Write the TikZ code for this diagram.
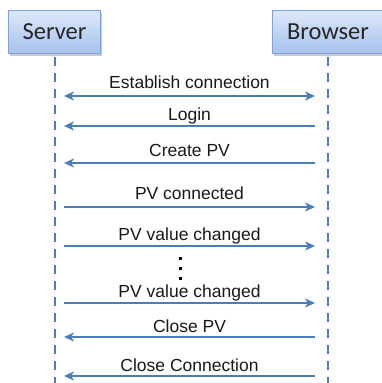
\documentclass[tikz,border=0pt]{standalone}
\usepackage{fontspec}
\setmainfont{Liberation Sans}
\newfontfamily\headfont{Carlito}
\usetikzlibrary{arrows.meta,shadows}

\definecolor{msgblue}{HTML}{4A7EBB}
\definecolor{boxedge}{HTML}{7FA2D8}
\definecolor{boxtop}{HTML}{DDE8F9}
\definecolor{boxbot}{HTML}{A6C2EE}

\tikzset{
  actor/.style={draw=boxedge, line width=1pt, top color=boxtop, bottom color=boxbot,
    minimum height=43pt, inner sep=0pt, font=\headfont\fontsize{24.5}{28}\selectfont,
    text=black!85, drop shadow={shadow xshift=1.5pt, shadow yshift=-2.5pt, opacity=0.35, fill=black!60}},
  lifeline/.style={draw=msgblue, line width=2pt, dash pattern=on 9pt off 7pt},
  msg/.style={draw=msgblue, line width=2pt,
    arrows={-Stealth[length=10pt, width=9pt, inset=3pt]}},
  msgboth/.style={msg, arrows={Stealth[length=10pt, width=9pt, inset=3pt]-Stealth[length=10pt, width=9pt, inset=3pt]}},
  lbl/.style={font=\fontsize{17.5}{20}\selectfont, text=black!90, inner sep=0pt, anchor=base},
  dot/.style={fill=black, minimum size=3pt, inner sep=0pt}
}

\begin{document}
\begin{tikzpicture}[x=1pt,y=1pt]
  \useasboundingbox (0,0) rectangle (382,-383);

  % participants
  \node[actor, minimum width=92pt] (server) at (54.5,-31.5) {Server};
  \node[actor, minimum width=112pt] (browser) at (328,-31.5) {Browser};

  % lifelines
  \coordinate (serverEnd) at (55,-383);
  \coordinate (browserEnd) at (328,-383);
  \draw[lifeline] (server.south -| serverEnd) ++(0,-3) -- (serverEnd);
  \draw[lifeline] (browser.south) ++(0,-3) -- (browserEnd);

  % message endpoints on both sides
  \foreach \n/\y in {1/96, 2/126, 3/163, 4/207, 5/246, 6/303, 7/337, 8/376} {
    \coordinate (s\n) at (64,-\y);
    \coordinate (b\n) at (315,-\y);
  }

  % messages
  \draw[msgboth] (s1) -- node[lbl, yshift=8pt] {Establish connection} (b1);
  \draw[msg] (b2) -- node[lbl, yshift=6pt] {Login} (s2);
  \draw[msg] (b3) -- node[lbl, yshift=6.5pt] {Create PV} (s3);
  \draw[msg] (s4) -- node[lbl, yshift=8pt] {PV connected} (b4);
  \draw[msg] (s5) -- node[lbl, yshift=6pt] {PV value changed} (b5);
  \draw[msg] (s6) -- node[lbl, yshift=5.5pt] {PV value changed} (b6);
  \draw[msg] (b7) -- node[lbl, yshift=5pt] {Close PV} (s7);
  \draw[msg] (b8) -- node[lbl, yshift=5pt] {Close Connection} (s8);

  % continuation dots
  \node[dot] (d1) at (180,-258) {};
  \node[dot] (d2) at (180,-268) {};
  \node[dot] (d3) at (180,-278) {};
\end{tikzpicture}
\end{document}
